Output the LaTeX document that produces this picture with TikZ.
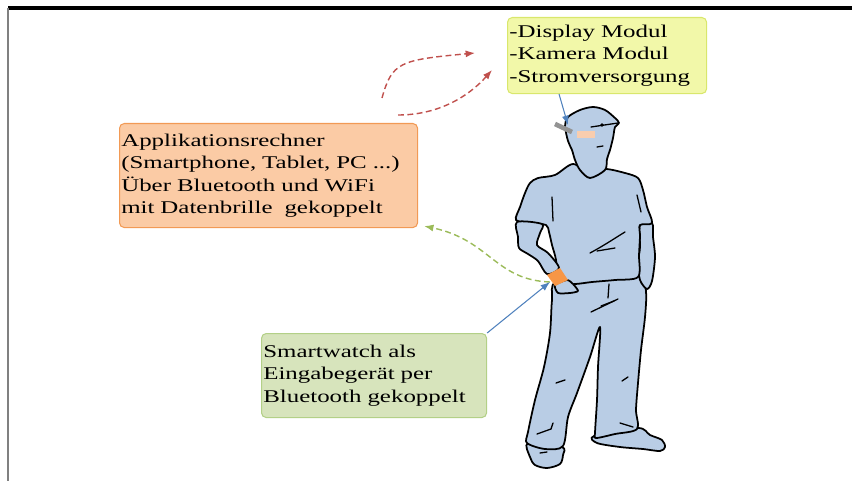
\documentclass[tikz,border=0pt]{standalone}
\usepackage{fontspec}
\setmainfont{Liberation Serif}[FakeStretch=1.39]
\usepackage{tikz}
\usetikzlibrary{arrows.meta,calc}
\definecolor{BoxGelb}{HTML}{F2F8A9}
\definecolor{RandGelb}{HTML}{D9E76C}
\definecolor{BoxOrange}{HTML}{FBCBA5}
\definecolor{RandOrange}{HTML}{F29A55}
\definecolor{BoxGruen}{HTML}{D7E4BC}
\definecolor{RandGruen}{HTML}{B3D087}
\definecolor{PfeilBlau}{HTML}{4F81BD}
\definecolor{FunkRot}{HTML}{C0504D}
\definecolor{FunkGruen}{HTML}{9BBB59}
\definecolor{Hemd}{HTML}{B9CDE5}
\definecolor{UhrOrange}{HTML}{F79646}
\definecolor{GlasRosa}{HTML}{F9CDAE}
\tikzset{
  infobox/.style={rounded corners=4pt, line width=0.9pt, anchor=north west, align=left,
                  font=\fontsize{15.3}{19.2}\selectfont, inner xsep=1.5pt, inner ysep=0pt},
  blaupfeil/.style={-{Latex[length=8pt,width=6pt]}, PfeilBlau, line width=0.9pt},
  funkpfeil/.style={-{Latex[length=8pt,width=6pt]}, dash pattern=on 5pt off 3pt, line width=1.2pt},
  figur/.style={fill=Hemd, draw=black, line width=1.5pt, line join=round},
  falte/.style={draw=black, line width=1.1pt, line cap=round}
}

\begin{document}
\begin{tikzpicture}[x=0.03cm, y=-0.03cm]
\useasboundingbox (0,0) rectangle (852,481);
% frame
\draw[line width=2.6pt] (8,8) -- (852,8);
\draw[gray, line width=1.2pt] (8,8) -- (8,481);

% boxes
\node[infobox, draw=RandGelb, fill=BoxGelb, text width=166.9pt, minimum height=2.28cm] (brillebox) at (507,17)
  {-Display Modul\\-Kamera Modul\\-Stromversorgung};
\node[infobox, draw=RandOrange, fill=BoxOrange, text width=251.4pt, minimum height=3.12cm] (rechnerbox) at (119,123)
  {Applikationsrechner\\(Smartphone, Tablet, PC ...)\\Über Bluetooth und WiFi\\mit Datenbrille~ gekoppelt};
\node[infobox, draw=RandGruen, fill=BoxGruen, text width=189.1pt, minimum height=2.52cm] (uhrbox) at (261,333)
  {Smartwatch als\\Eingabegerät per\\Bluetooth gekoppelt};

% person: shoes, trousers, arms, shirt, head
\draw[figur] plot[smooth cycle, tension=0.5] coordinates {(528,443) (530,457) (535,465) (547,468) (560,464) (563,455) (562,447)};
\draw[figur] plot[smooth cycle, tension=0.5] coordinates {(594,436) (597,443) (620,447) (643,449) (660,451) (665,447) (662,440) (650,435) (638,428)};
\draw[figur] plot[smooth cycle, tension=0.5] coordinates {(556,282) (552,300) (550,333) (544,367) (535,400) (528,432) (527,443)
  (545,449) (563,446) (568,417) (577,393) (590,357) (600,327) (598,367) (597,400) (595,433) (596,438)
  (615,434) (637,429) (636,410) (638,383) (641,350) (645,317) (646,292) (640,276) (600,280)};
\draw[figur] plot[smooth cycle, tension=0.5] coordinates {(640,225) (640,247) (638,263) (640,280) (647,289) (652,281) (655,257) (653,237) (652,223)};
\draw[figur] plot[smooth cycle, tension=0.5] coordinates {(573,164) (555,175) (538,178) (530,183) (525,193) (520,207) (516,220)
  (531,223) (546,225) (549,232) (552,245) (556,260) (558,283) (575,284) (592,282) (615,280) (638,277)
  (639,255) (640,236) (640,225) (652,223) (647,207) (643,190) (638,178) (625,173) (605,169) (590,174)};
\draw[figur] plot[smooth cycle, tension=0.5] coordinates {(517,222) (518,237) (519,248) (528,254) (538,261) (547,274)
  (559,268) (548,253) (537,245) (540,233) (542,224)};
\draw[figur] plot[smooth cycle, tension=0.5] coordinates {(565,126) (568,117) (580,110) (593,107) (605,110) (615,118) (619,123)
  (615,127) (613,138) (610,150) (607,159) (605,170) (590,178) (580,170) (575,160) (572,150) (568,141)};
\draw[figur] plot[smooth cycle, tension=0.4] coordinates {(555,285) (558,293) (570,293) (578,291) (573,284) (567,280)};
\fill[UhrOrange] (547,275) -- (560,268) -- (568,280) -- (555,286) -- cycle;

% folds and face
\draw[falte] (591,127) -- (618,123);
\fill (602,125) circle (1.8);
\draw[falte] (597,147) -- (603,146);
\draw[falte] (552,197) -- (553,221);
\draw[falte] (637,195) -- (641,212);
\draw[falte] (590,253) .. controls (605,245) and (615,238) .. (625,232);
\draw[falte] (597,251) -- (615,248);
\draw[falte] (609,284) -- (608,298);
\draw[falte] (591,312) -- (618,299);
\draw[falte] (601,306) -- (614,301);
\draw[falte] (556,383) -- (565,380);
\draw[falte] (622,381) -- (628,377);
\draw[falte] (537,434) -- (551,429) -- (553,423);
\draw[falte] (620,423) -- (633,427);
\draw[falte] (540,453) -- (547,452);

% glasses
\draw[gray!85, line width=4pt] (555,124) -- (572,132);
\fill[GlasRosa] (577,131) rectangle (595,138);

% connections
\coordinate (glas) at (568,125);
\coordinate (uhr) at (550,282);
\coordinate (funka) at (382,98);
\coordinate (funkb) at (475,53);
\coordinate (funkc) at (398,115);
\coordinate (funkd) at (492,70);
\draw[blaupfeil] ($(brillebox.south west)!0.26!(brillebox.south east)$) -- (glas);
\draw[funkpfeil, FunkGruen] (uhr) .. controls (495,280) and (490,240) .. ($(rechnerbox.south east)+(6,-2)$);
\draw[blaupfeil] (uhrbox.north east) -- (uhr);
\draw[funkpfeil, FunkRot] (funka) .. controls (392,62) and (400,60) .. (funkb);
\draw[funkpfeil, FunkRot] (funkc) .. controls (440,115) and (470,95) .. (funkd);
\end{tikzpicture}
\end{document}
